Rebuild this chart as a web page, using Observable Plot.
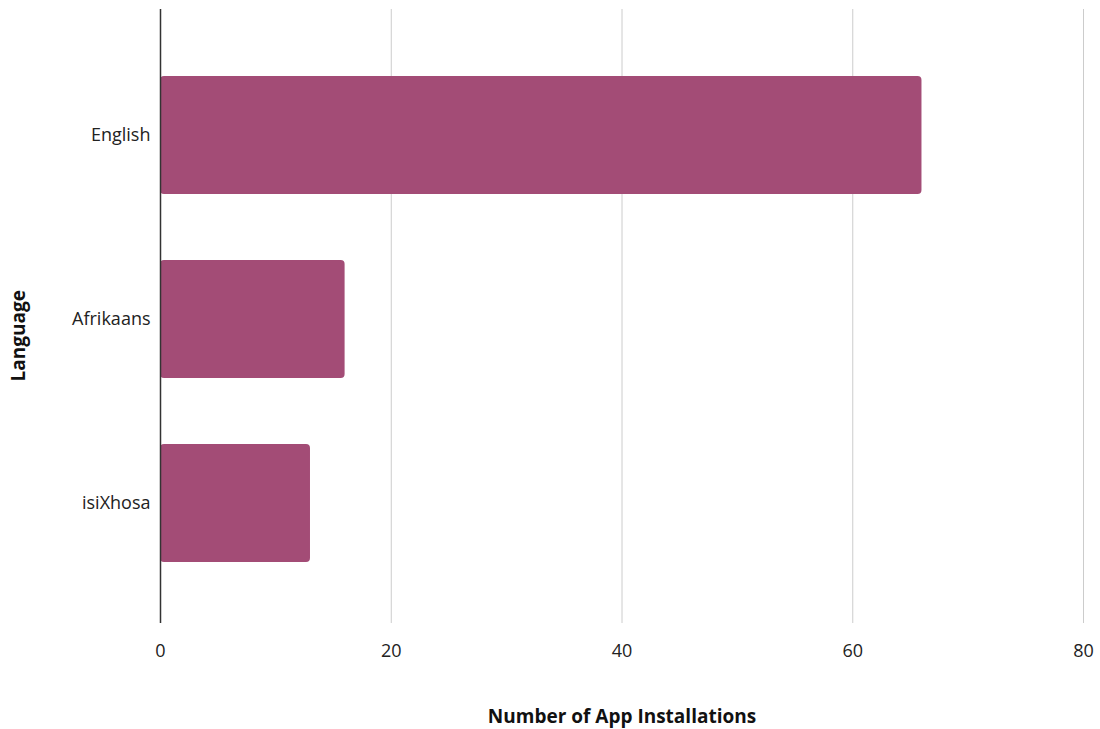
<!DOCTYPE html>
<html>
<head>
<meta charset="utf-8">
<script src="https://cdn.jsdelivr.net/npm/d3@7"></script>
<script src="https://cdn.jsdelivr.net/npm/@observablehq/plot@0.6"></script>
<style>
  html, body { margin: 0; padding: 0; background: #fff; }
  #chart svg { display: block; }
</style>
</head>
<body>
<div id="chart"></div>
<script>
const languages = ["English", "Afrikaans", "isiXhosa"];
const installations = [66, 16, 13];
const xTicks = [0, 20, 40, 60, 80];
const xTitle = "Number of App Installations";
const yTitle = "Language";

const data = languages.map((l, i) => ({language: l, value: installations[i]}));

const chart = Plot.plot({
  width: 1100,
  height: 729,
  marginLeft: 160,
  marginRight: 17,
  marginTop: 9,
  marginBottom: 106,
  style: {fontFamily: "'Open Sans', sans-serif", fontSize: "18px", color: "#222", background: "#fff"},
  x: {domain: [0, 80], ticks: xTicks, label: null},
  y: {domain: languages, range: [8, 629], padding: 0.36, label: null},
  marks: [
    Plot.gridX(xTicks, {stroke: "#cccccc", strokeOpacity: 1, strokeWidth: 1}),
    Plot.axisX({ticks: xTicks, tickSize: 0, tickPadding: 21, fontSize: 18, label: null}),
    Plot.axisY({tickSize: 0, tickPadding: 10, fontSize: 18, label: null}),
    Plot.barX(data, {x: "value", y: "language", fill: "#a34c76", rx: 4}),
    Plot.ruleX([0], {stroke: "#333", strokeWidth: 1.5}),
    Plot.text([xTitle], {frameAnchor: "bottom", dy: 99, fontWeight: "bold", fontSize: 19, fill: "#111"}),
    Plot.text([yTitle], {frameAnchor: "left", dx: -142, dy: 65, rotate: -90, fontWeight: "bold", fontSize: 19, fill: "#111"})
  ]
});
document.getElementById("chart").appendChild(chart);
</script>
</body>
</html>
